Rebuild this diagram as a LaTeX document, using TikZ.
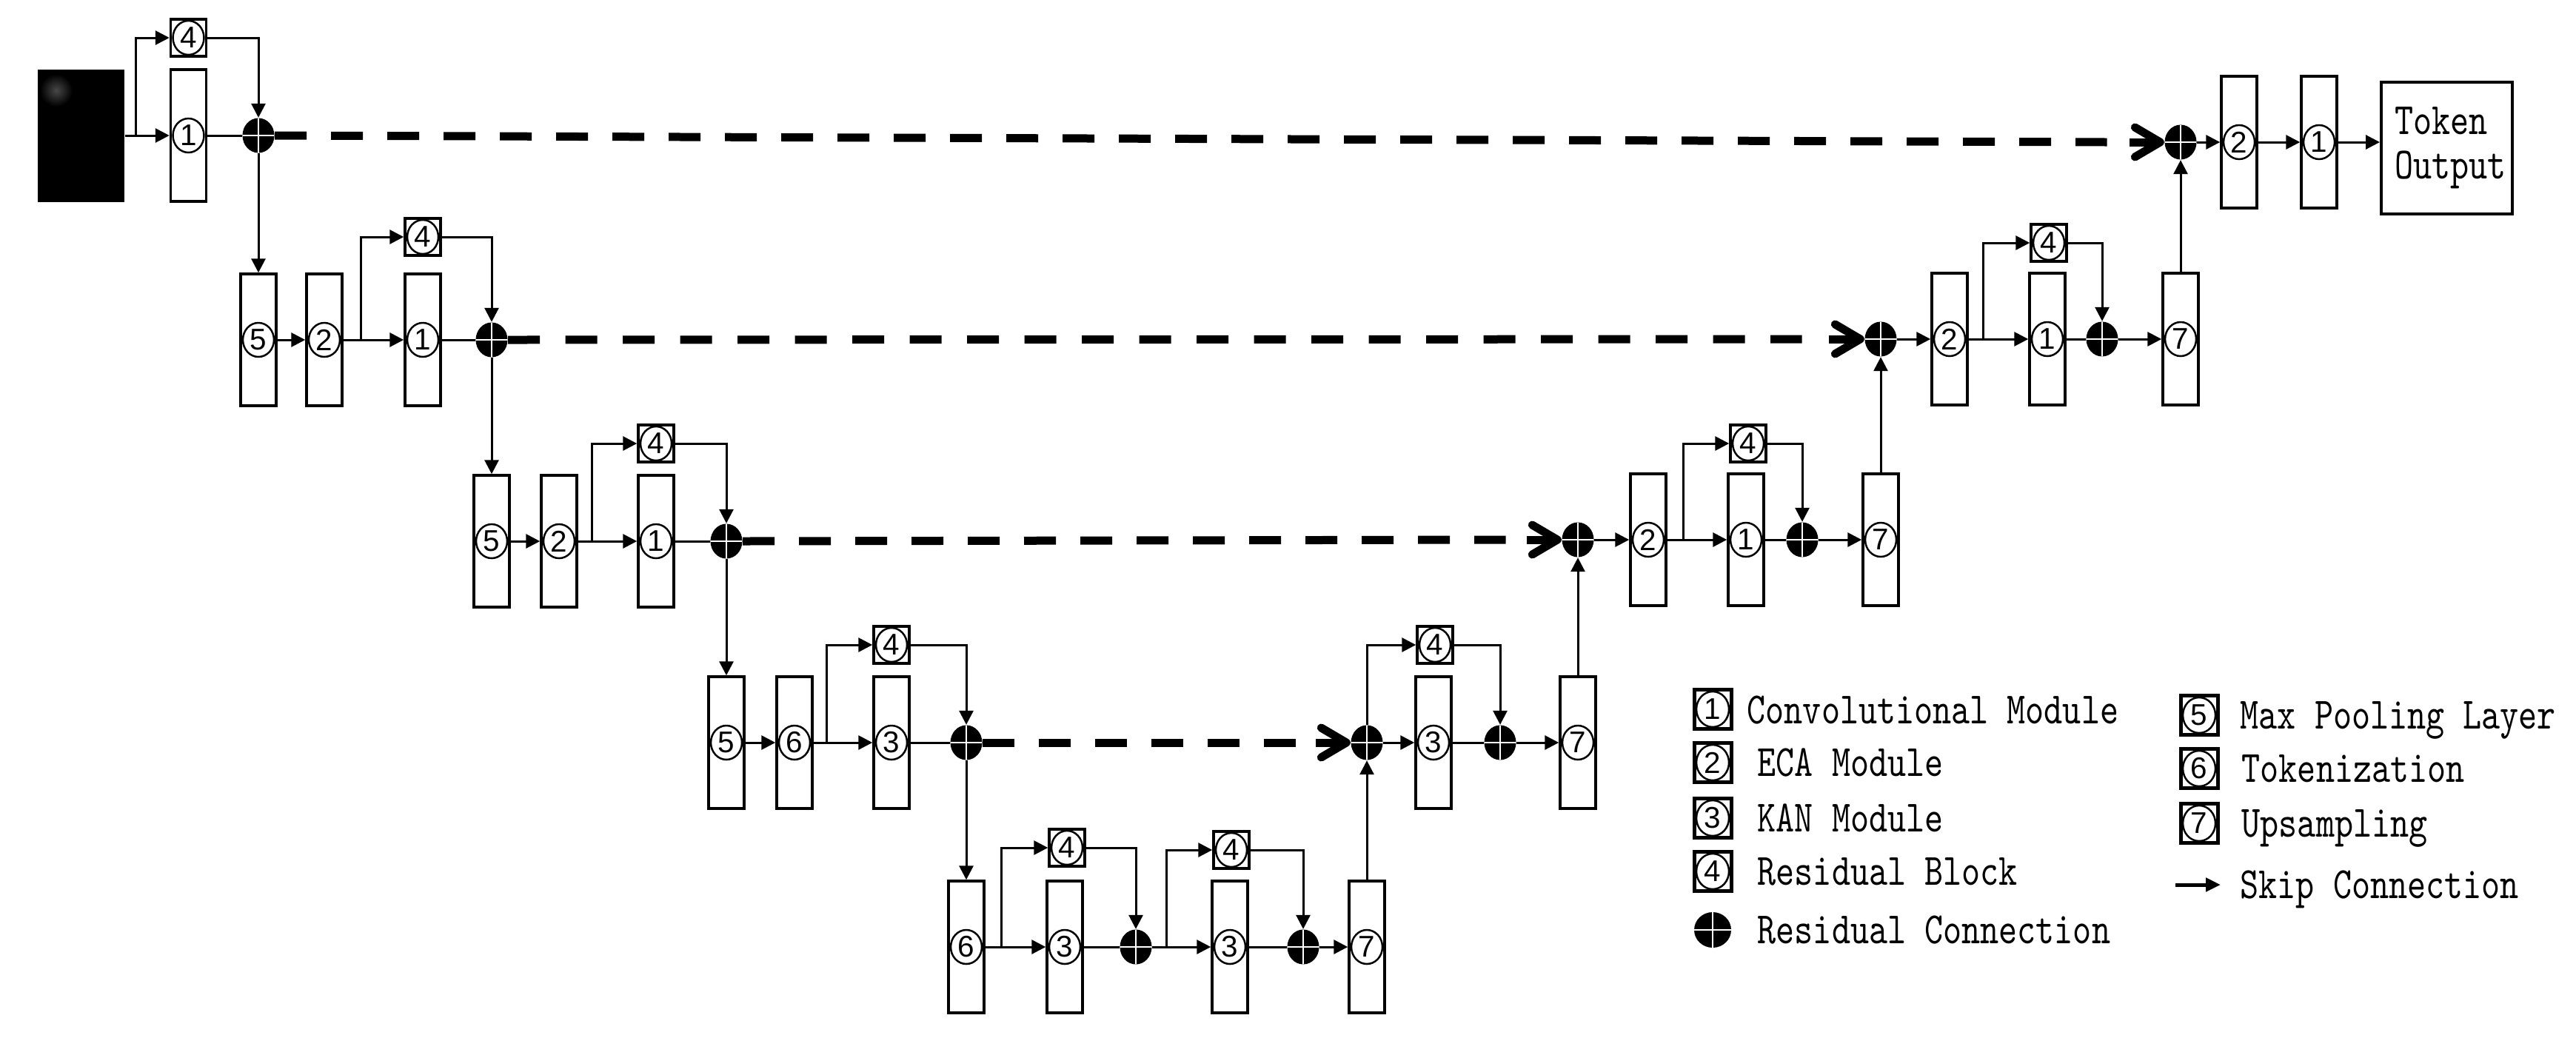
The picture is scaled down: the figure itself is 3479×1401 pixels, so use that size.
\documentclass[tikz,border=0pt]{standalone}
\usepackage{fontspec}
\usepackage{graphicx}
\usetikzlibrary{arrows.meta,shapes.geometric}
\newfontfamily\lgfont[Extension=.otf,FakeStretch=0.79]{lmmono10-regular}
\newfontfamily\dgfont{Liberation Sans}
\newcommand{\mkblk}[3]{\node[blk] (#1) at (#2) {}; \node[num] (#1n) at (#1) {#3};}
\newcommand{\mkres}[2]{\node[resbox] (#1) at (#2) {}; \node[num] (#1n) at (#1) {4};}
\newcommand{\mkplus}[2]{\node[plus] (#1) at (#2) {};}
\begin{document}
\begin{tikzpicture}[x=0.1mm,y=-0.1mm,
  ln/.style={line width=0.3mm},
  arr/.style={line width=0.3mm,-{Triangle[length=1.9mm,width=1.9mm]}},
  blk/.style={draw,line width=0.35mm,fill=white,minimum width=4.8mm,minimum height=17.8mm,inner sep=0pt},
  resbox/.style={draw,line width=0.35mm,fill=white,minimum width=4.8mm,minimum height=5mm,inner sep=0pt},
  num/.style={ellipse,draw,line width=0.25mm,minimum width=4.2mm,minimum height=4.6mm,inner sep=0pt,font=\dgfont\fontsize{11.5pt}{12pt}\selectfont},
  plus/.style={ellipse,fill=black,minimum width=4.3mm,minimum height=4.7mm,inner sep=0pt,
     path picture={\draw[white,line width=0.25mm] (path picture bounding box.north) -- (path picture bounding box.south) (path picture bounding box.west) -- (path picture bounding box.east);}},
  skipl/.style={line width=1.1mm,dash pattern=on 4.3mm off 3.3mm},
  skiplb/.style={line width=1.1mm,dash pattern=on 4.3mm off 3.45mm},
  chev/.style={line width=1.1mm,-{Straight Barb[length=3.4mm,width=4.0mm,line width=1.1mm,round]}},
  lg/.style={font=\lgfont\fontsize{17.2pt}{17pt}\selectfont,inner sep=0pt},
  inbox/.style={fill=black,minimum width=11.7mm,minimum height=17.9mm,inner sep=0pt},
  tokbox/.style={draw,line width=0.4mm,minimum width=17.7mm,minimum height=17.8mm,text width=14mm,inner xsep=1.85mm,align=left,font=\lgfont\fontsize{17.2pt}{17pt}\selectfont},
  lgbox/.style={draw,line width=0.5mm,minimum width=5mm,minimum height=5.3mm,inner sep=0pt},
  legarr/.style={line width=0.5mm,-{Triangle[length=2mm,width=1.8mm]}}
]
\useasboundingbox (0,0) rectangle (3479,1401);

% ---------- Row 1 left
\node[inbox] (inp) at (109.5,183) {};
\shade[inner color=black!72,outer color=black] (76,122) circle (22);
\mkblk{a1}{254.5,183}{1}
\mkres{ra}{254.5,51}
\mkplus{p1}{349,183}
\coordinate (br1) at (183,183);
\draw[arr] (inp.east) -- (a1.west);
\draw[arr] (br1) |- (ra.west);
\draw[arr] (ra.east) -| (p1.north);
\draw[ln] (a1.east) -- (p1.west);

% ---------- Row 2 left
\mkblk{b1}{349,459}{5}
\mkblk{b2}{438,459}{2}
\coordinate (br2) at (487,459);
\mkblk{b3}{571,459}{1}
\mkres{rb}{571,320}
\mkplus{p2}{664,459}
\draw[arr] (p1.south) -- (b1.north);
\draw[arr] (b1.east) -- (b2.west);
\draw[arr] (b2.east) -- (b3.west);
\draw[arr] (br2) |- (rb.west);
\draw[arr] (rb.east) -| (p2.north);
\draw[ln] (b3.east) -- (p2.west);

% ---------- Row 3 left
\mkblk{c1}{664,731}{5}
\mkblk{c2}{755,731}{2}
\coordinate (br3) at (799,731);
\mkblk{c3}{886,731}{1}
\mkres{rc}{886,599}
\mkplus{p3}{981,731}
\draw[arr] (p2.south) -- (c1.north);
\draw[arr] (c1.east) -- (c2.west);
\draw[arr] (c2.east) -- (c3.west);
\draw[arr] (br3) |- (rc.west);
\draw[arr] (rc.east) -| (p3.north);
\draw[ln] (c3.east) -- (p3.west);

% ---------- Row 4 left
\mkblk{d1}{981,1003}{5}
\mkblk{d2}{1073,1003}{6}
\coordinate (br4) at (1116,1003);
\mkblk{d3}{1204,1003}{3}
\mkres{rd}{1204,871}
\mkplus{p4}{1305,1003}
\draw[arr] (p3.south) -- (d1.north);
\draw[arr] (d1.east) -- (d2.west);
\draw[arr] (d2.east) -- (d3.west);
\draw[arr] (br4) |- (rd.west);
\draw[arr] (rd.east) -| (p4.north);
\draw[ln] (d3.east) -- (p4.west);

% ---------- Row 5 (bottom)
\mkblk{e1}{1305,1279}{6}
\coordinate (br5) at (1352,1279);
\mkblk{e2}{1438,1279}{3}
\mkres{re}{1441,1145}
\mkplus{p5}{1534,1279}
\coordinate (br6) at (1575,1279);
\mkblk{e3}{1661,1279}{3}
\mkres{rf}{1663,1148}
\mkplus{p6}{1760,1279}
\mkblk{e4}{1846,1279}{7}
\draw[arr] (p4.south) -- (e1.north);
\draw[arr] (e1.east) -- (e2.west);
\draw[arr] (br5) |- (re.west);
\draw[arr] (re.east) -| (p5.north);
\draw[ln] (e2.east) -- (p5.west);
\draw[arr] (p5.east) -- (e3.west);
\draw[arr] (br6) |- (rf.west);
\draw[arr] (rf.east) -| (p6.north);
\draw[ln] (e3.east) -- (p6.west);
\draw[arr] (p6.east) -- (e4.west);

% ---------- Row 4 right
\mkplus{q4}{1846,1003}
\mkblk{f1}{1936,1003}{3}
\mkres{rg}{1938,871}
\mkplus{p7}{2026,1003}
\mkblk{f2}{2131,1003}{7}
\draw[arr] (e4.north) -- (q4.south);
\draw[arr] (q4.east) -- (f1.west);
\draw[arr] (q4.north) |- (rg.west);
\draw[arr] (rg.east) -| (p7.north);
\draw[ln] (f1.east) -- (p7.west);
\draw[arr] (p7.east) -- (f2.west);

% ---------- Row 3 right
\mkplus{q3}{2131,729}
\mkblk{g1}{2226,729}{2}
\coordinate (br7) at (2273,729);
\mkblk{g2}{2358,729}{1}
\mkres{rh}{2361,599}
\mkplus{p8}{2434,729}
\mkblk{g3}{2540,729}{7}
\draw[arr] (f2.north) -- (q3.south);
\draw[arr] (q3.east) -- (g1.west);
\draw[arr] (g1.east) -- (g2.west);
\draw[arr] (br7) |- (rh.west);
\draw[arr] (rh.east) -| (p8.north);
\draw[ln] (g2.east) -- (p8.west);
\draw[arr] (p8.east) -- (g3.west);

% ---------- Row 2 right
\mkplus{q2}{2540,458}
\mkblk{h1}{2633,458}{2}
\coordinate (br8) at (2678,458);
\mkblk{h2}{2765,458}{1}
\mkres{ri}{2767,328}
\mkplus{p9}{2839,458}
\mkblk{h3}{2945,458}{7}
\draw[arr] (g3.north) -- (q2.south);
\draw[arr] (q2.east) -- (h1.west);
\draw[arr] (h1.east) -- (h2.west);
\draw[arr] (br8) |- (ri.west);
\draw[arr] (ri.east) -| (p9.north);
\draw[ln] (h2.east) -- (p9.west);
\draw[arr] (p9.east) -- (h3.west);

% ---------- Row 1 right
\mkplus{q1}{2945,192}
\mkblk{k1}{3024,192}{2}
\mkblk{k2}{3132,192}{1}
\node[tokbox] (tok) at (3304.5,200) {Token\\Output};
\draw[arr] (h3.north) -- (q1.south);
\draw[arr] (q1.east) -- (k1.west);
\draw[arr] (k1.east) -- (k2.west);
\draw[arr] (k2.east) -- (k2.east -| tok.west);

% ---------- Skip connections
\coordinate (s1a) at (2845.5,192); \coordinate (s1b) at (2876,192);
\coordinate (s2a) at (2433.5,458); \coordinate (s2b) at (2470,458);
\coordinate (s3a) at (2033.5,729); \coordinate (s3b) at (2062,729);
\coordinate (s4a) at (1749.5,1003); \coordinate (s4b) at (1777,1003);
\draw[skipl] (p1.east) -- (s1a); \draw[chev] (s1b) -- (q1.west);
\draw[skiplb] (p2.east) -- (s2a); \draw[chev] (s2b) -- (q2.west);
\draw[skipl] (p3.east) -- (s3a); \draw[chev] (s3b) -- (q3.west);
\draw[skipl] (p4.east) -- (s4a); \draw[chev] (s4b) -- (q4.west);

% ---------- Legend
\node[lgbox] (l1) at (2313,958) {}; \node[num,minimum width=4.4mm,minimum height=4.8mm] (l1n) at (l1) {1};
\node[lg,anchor=base west] (t1) at (2359,977) {Convolutional Module};
\node[lgbox] (l2) at (2313,1030) {}; \node[num,minimum width=4.4mm,minimum height=4.8mm] (l2n) at (l2) {2};
\node[lg,anchor=base west] (t2) at (2373,1048) {ECA Module};
\node[lgbox] (l3) at (2313,1105) {}; \node[num,minimum width=4.4mm,minimum height=4.8mm] (l3n) at (l3) {3};
\node[lg,anchor=base west] (t3) at (2373,1123) {KAN Module};
\node[lgbox] (l4) at (2313,1177) {}; \node[num,minimum width=4.4mm,minimum height=4.8mm] (l4n) at (l4) {4};
\node[lg,anchor=base west] (t4) at (2373,1195) {Residual Block};
\node[plus,minimum width=5mm,minimum height=4.8mm] (lp) at (2313,1256) {};
\node[lg,anchor=base west] (t8) at (2373,1274) {Residual Connection};
\node[lgbox] (l5) at (2970,966) {}; \node[num,minimum width=4.4mm,minimum height=4.8mm] (l5n) at (l5) {5};
\node[lg,anchor=base west] (t5) at (3025,984) {Max Pooling Layer};
\node[lgbox] (l6) at (2970,1038) {}; \node[num,minimum width=4.4mm,minimum height=4.8mm] (l6n) at (l6) {6};
\node[lg,anchor=base west] (t6) at (3027,1056) {Tokenization};
\node[lgbox] (l7) at (2970,1112) {}; \node[num,minimum width=4.4mm,minimum height=4.8mm] (l7n) at (l7) {7};
\node[lg,anchor=base west] (t7) at (3027,1130) {Upsampling};
\coordinate (la) at (2938,1195); \coordinate (lb) at (2999,1195);
\draw[legarr] (la) -- (lb);
\node[lg,anchor=base west] (t9) at (3025,1213) {Skip Connection};
\end{tikzpicture}
\end{document}
